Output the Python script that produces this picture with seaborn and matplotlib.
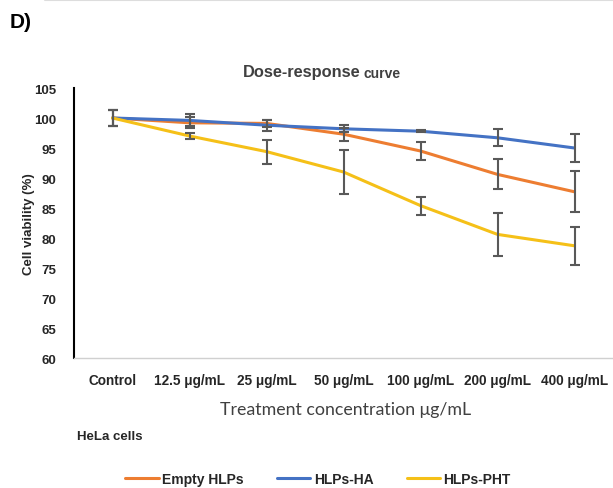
import matplotlib
matplotlib.use("Agg")
import matplotlib.pyplot as plt
import seaborn as sns
import pandas as pd
from matplotlib.lines import Line2D

categories = ["Control", "12.5 μg/mL", "25 μg/mL", "50 μg/mL", "100 μg/mL", "200 μg/mL", "400 μg/mL"]
series_names = ["Empty HLPs", "HLPs-HA", "HLPs-PHT"]
empty_hlps = [100.0, 99.2, 99.1, 97.3, 94.5, 90.6, 87.7]
empty_err = [1.3, 0.9, 0.6, 1.1, 1.5, 2.5, 3.4]
hlps_ha = [100.0, 99.6, 98.8, 98.2, 97.8, 96.7, 95.0]
ha_err = [1.3, 1.0, 0.9, 0.6, 0.2, 1.4, 2.4]
hlps_pht = [100.0, 97.0, 94.4, 91.0, 85.4, 80.6, 78.7]
pht_err = [1.3, 0.5, 2.0, 3.7, 1.5, 3.6, 3.2]
colors = ["#ED7D31", "#4472C4", "#F5C018"]

sns.set_theme(style="white")
plt.rcParams["font.family"] = ["Liberation Sans", "DejaVu Sans"]

rows = []
for name, vals in zip(series_names, [empty_hlps, hlps_ha, hlps_pht]):
    for c, v in zip(categories, vals):
        rows.append({"cat": c, "val": v, "series": name})
df = pd.DataFrame(rows)

fig = plt.figure(figsize=(6.13, 4.89), dpi=100)
ax = fig.add_axes([74/613, 1-359/489, 539/613, 270/489])

sns.lineplot(data=df, x="cat", y="val", hue="series", palette=colors,
             linewidth=2.2, ax=ax, legend=False, sort=False, zorder=2)

x_idx = list(range(len(categories)))
for vals, errs in [(empty_hlps, empty_err), (hlps_ha, ha_err), (hlps_pht, pht_err)]:
    ax.errorbar(x_idx, vals, yerr=errs, fmt="none", ecolor="#595959",
                elinewidth=1.5, capsize=3.5, capthick=1.5, zorder=3)

ax.set_xlim(-0.5, len(categories) - 0.5)
ax.set_ylim(60, 105)
ax.set_yticks(range(60, 106, 5))
ax.set_xticks(x_idx)
ax.set_xticklabels(categories, fontsize=9.8, fontweight="bold", color="#262626")
ax.set_xticks([i + 0.5 for i in range(len(categories) - 1)], minor=True)
ax.tick_params(axis="x", which="major", length=0, pad=11)
ax.tick_params(axis="x", which="minor", length=3, direction="in", color="#BFBFBF", width=1)
ax.tick_params(axis="y", which="major", length=4, direction="out", width=1.2,
               color="black", labelsize=9.5, pad=9)
for lab in ax.get_yticklabels():
    lab.set_fontweight("bold")
    lab.set_color("#262626")

for s in ["top", "right"]:
    ax.spines[s].set_visible(False)
ax.spines["left"].set_color("black")
ax.spines["left"].set_linewidth(1.5)
ax.spines["bottom"].set_color("#D0D0D0")
ax.spines["bottom"].set_linewidth(1.0)

ax.set_xlabel("")
ax.set_ylabel("Cell viability (%)", fontsize=9.5, fontweight="bold", color="#262626")
ax.yaxis.set_label_coords(-0.073, 0.5)

# Panel label and title
fig.text(10/613, 1-23/489, "D)", fontsize=15, fontweight="bold", va="center", ha="left", color="black")
fig.text(360/613, 1-73/489, "Dose-response", fontsize=11.8, fontweight="bold",
         va="center", ha="right", color="#404040")
fig.text(364/613, 1-74/489, "curve", fontsize=10, fontweight="bold",
         va="center", ha="left", color="#404040")

fig.text(346/613, 1-410/489, "Treatment concentration μg/mL", fontsize=12.8,
         va="center", ha="center", color="#404040", family=["Lato", "DejaVu Sans"])
fig.text(77/613, 1-437/489, "HeLa cells", fontsize=9.5, fontweight="bold",
         va="center", ha="left", color="#262626")

# top hairline
fig.add_artist(Line2D([45/613, 1.0], [1-1/489, 1-1/489], color="#DDDDDD", linewidth=1.5,
                      transform=fig.transFigure))

handles = [Line2D([0], [0], color=c, linewidth=2.2) for c in colors]
leg = fig.legend(handles, series_names, loc="center", bbox_to_anchor=(318/613, 1-480/489),
                 ncol=3, frameon=False, handlelength=2.4, handletextpad=0.25,
                 columnspacing=2.4, prop={"weight": "bold", "size": 10})
for t in leg.get_texts():
    t.set_color("#262626")

fig.savefig("out.png", dpi=100)
